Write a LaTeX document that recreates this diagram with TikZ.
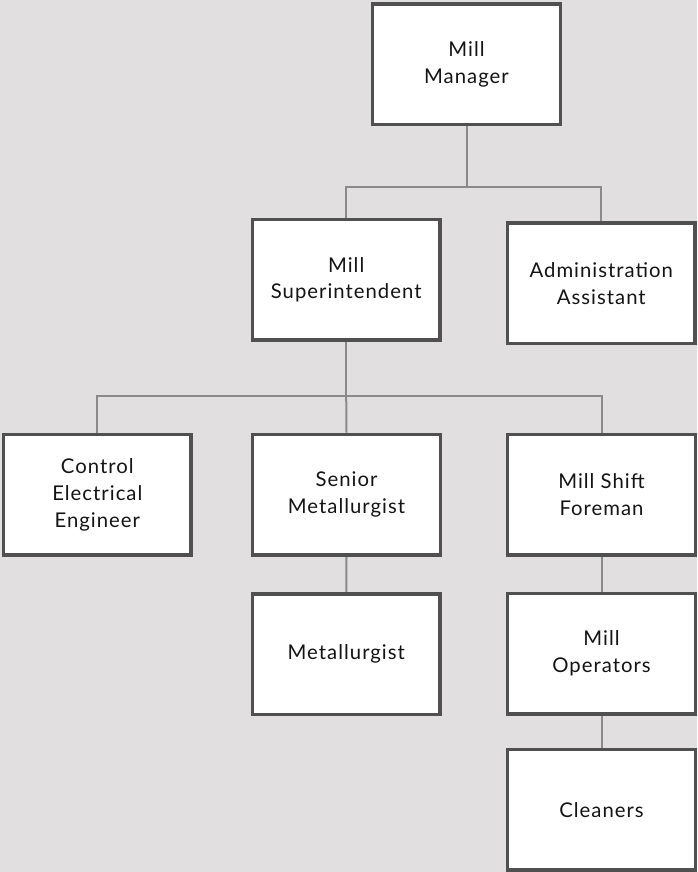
\documentclass[tikz,border=0pt]{standalone}
\usepackage{fontspec}
\setmainfont{Lato}[LetterSpace=5]
\usetikzlibrary{backgrounds}
\definecolor{bgc}{RGB}{225,223,224}
\definecolor{bordc}{RGB}{80,80,80}
\definecolor{connc}{RGB}{138,138,138}
\definecolor{txtc}{RGB}{20,20,20}
\tikzset{
  box/.style={draw=bordc, line width=3.5pt, fill=white, minimum width=187.8pt, minimum height=120.5pt,
    inner sep=0pt, align=center, text=txtc, font=\fontsize{20.3}{26.7}\selectfont},
  conn/.style={draw=connc, line width=2pt}
}
\begin{document}
\begin{tikzpicture}[x=1pt,y=-1pt]
\useasboundingbox (0,0) rectangle (697,872);
\node[box] (MM) at (466.5,64.3) {Mill\\Manager};
\node[box] (MS) at (346.2,279.7) {Mill\\Superintendent};
\node[box] (AA) at (601.3,283.3) {Administration\\Assistant};
\node[box] (CE) at (97.3,494.7) {Control\\Electrical\\Engineer};
\node[box] (SM) at (346.5,494.7) {Senior\\Metallurgist};
\node[box] (MF) at (601.5,494.7) {Mill Shift\\Foreman};
\node[box] (MT) at (346.3,654) {Metallurgist};
\node[box] (MO) at (601.5,653.5) {Mill\\Operators};
\node[box] (CL) at (601.5,809.8) {Cleaners};
\coordinate (b1) at (0,187.3);
\coordinate (b2) at (0,395.8);
\begin{scope}[on background layer]
\fill[bgc] (0,0) rectangle (697,872);
\draw[conn] (MM.south) -- (MM.south |- b1) -| (MS.north);
\draw[conn] (MM.south |- b1) -| (AA.north);
\draw[conn] (MS.south) -- (MS.south |- b2) -| (CE.north);
\draw[conn] (MS.south |- b2) -| (MF.north);
\draw[conn] (MS.south |- b2) -- (SM.north);
\draw[conn] (SM.south) -- (MT.north);
\draw[conn] (MF.south) -- (MO.north);
\draw[conn] (MO.south) -- (CL.north);
\end{scope}
\end{tikzpicture}
\end{document}
